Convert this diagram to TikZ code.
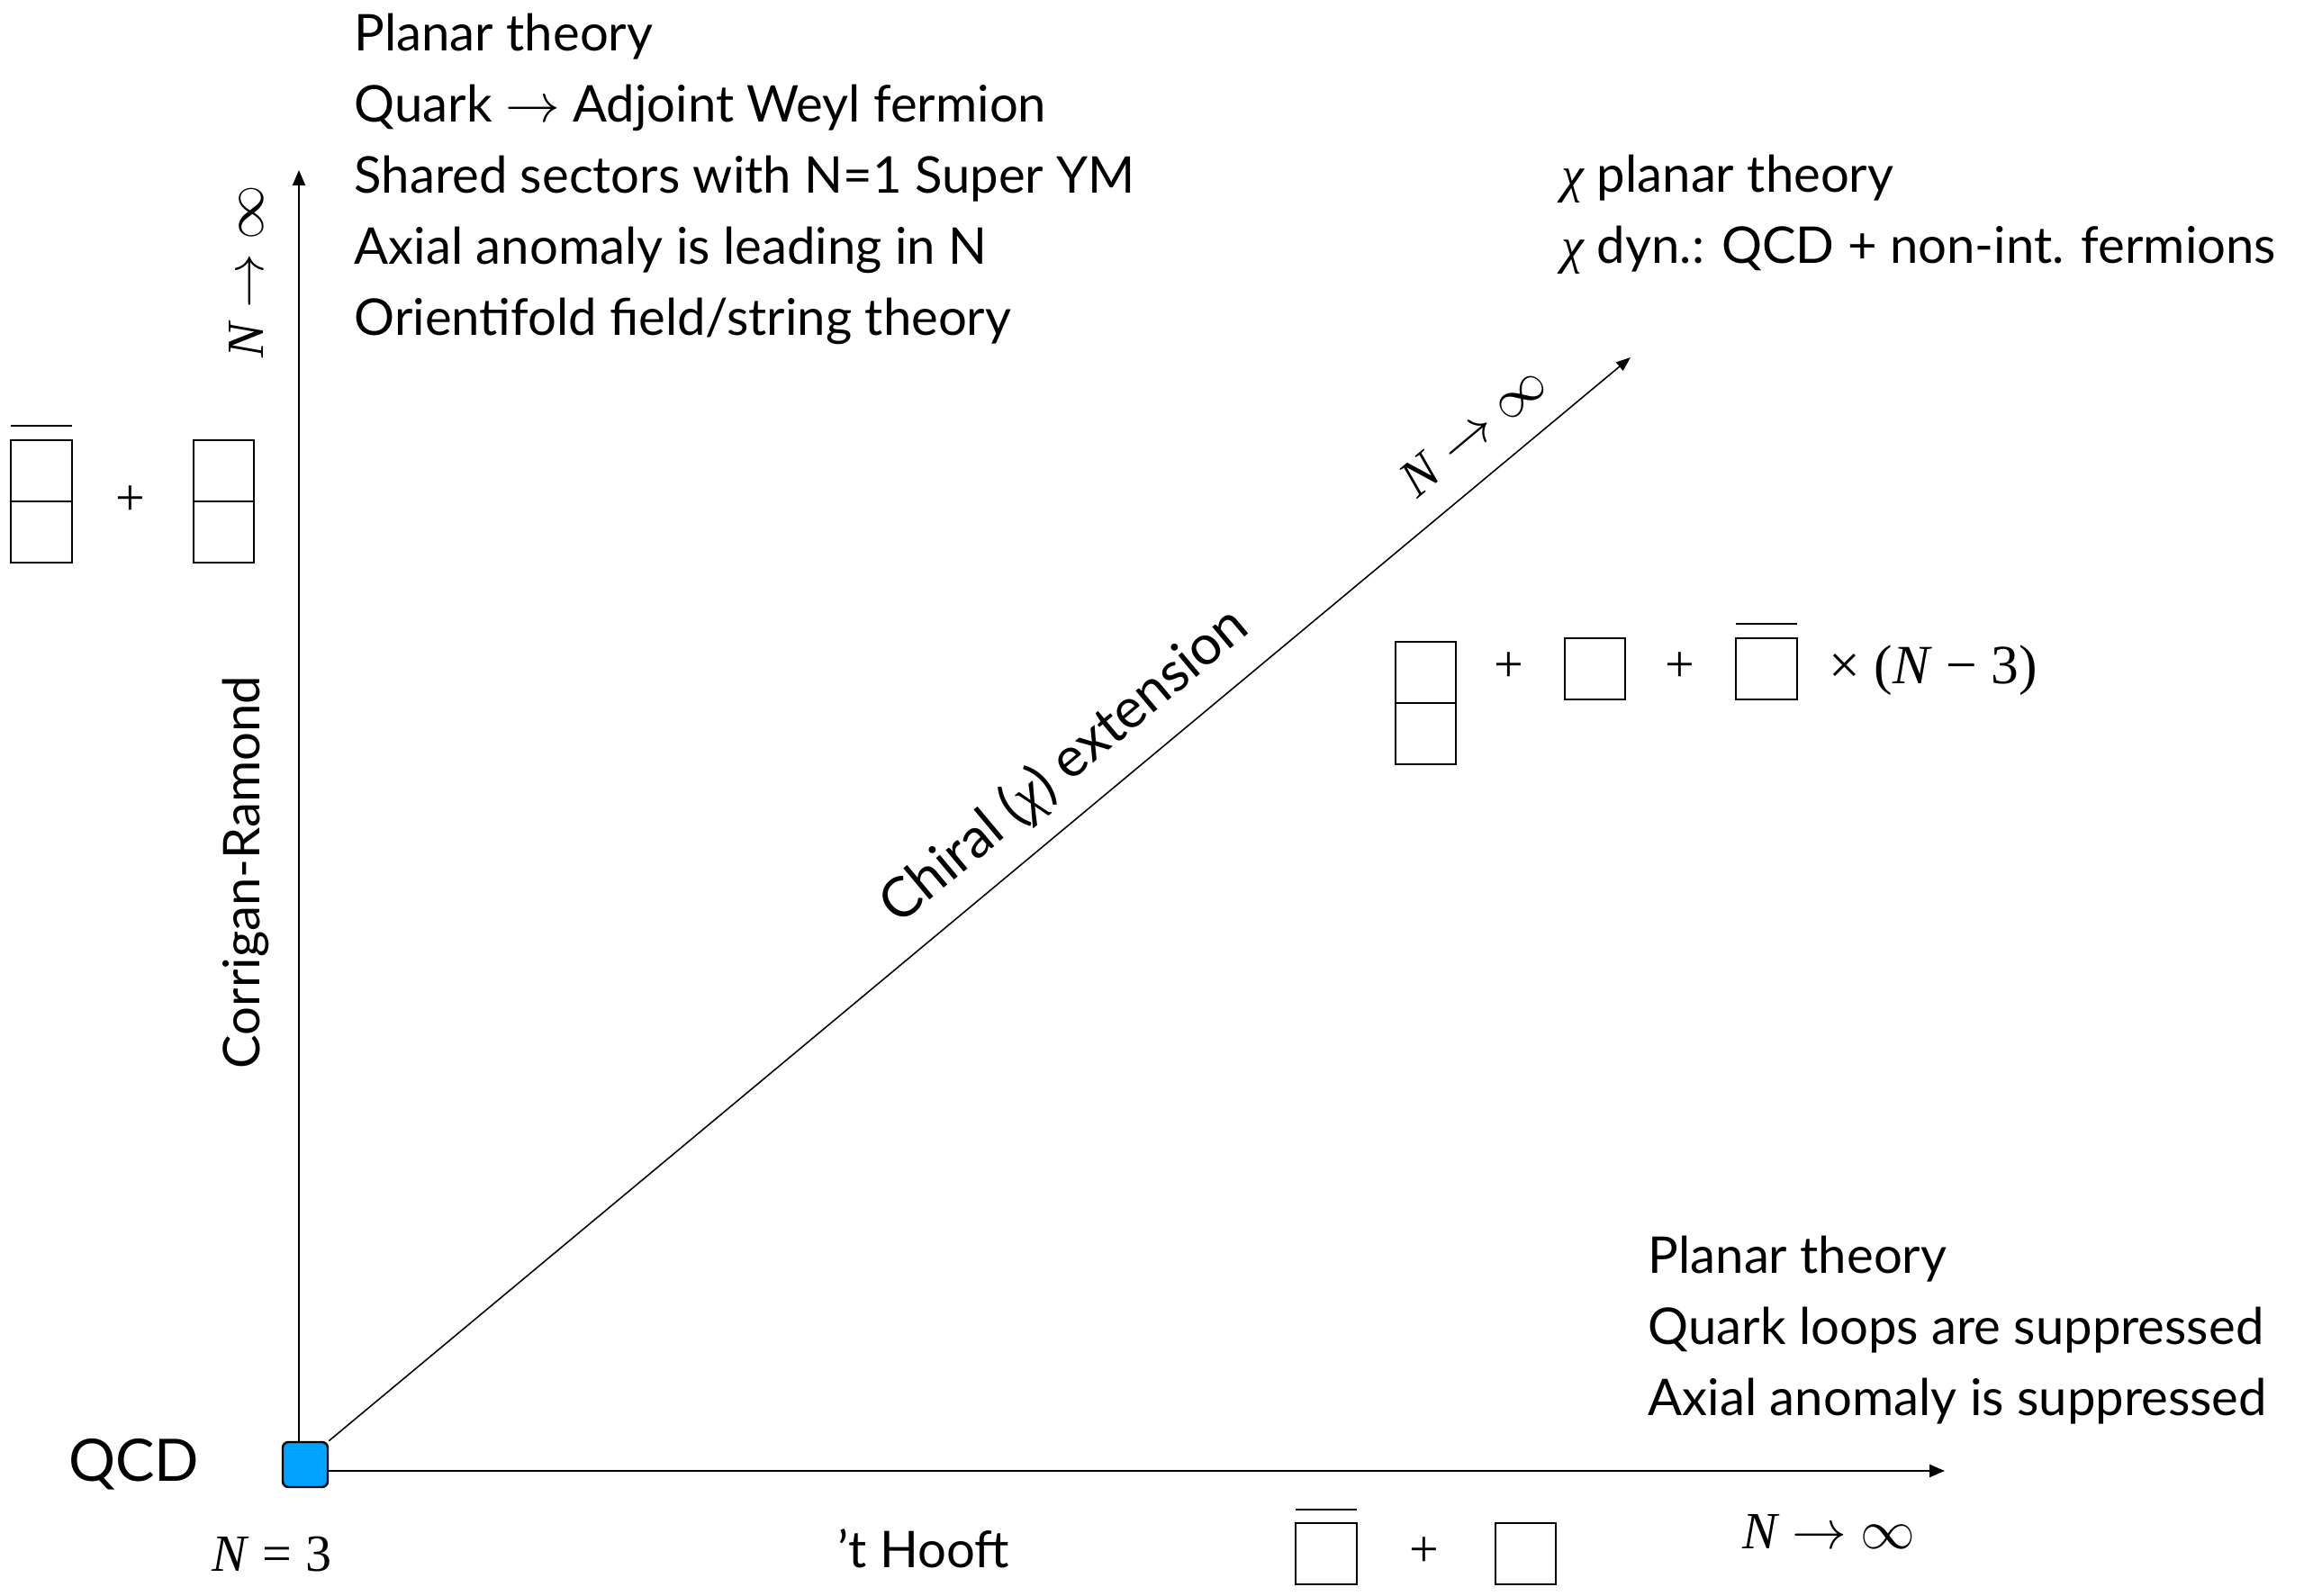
\documentclass[tikz,border=0pt]{standalone}
\usepackage{fontspec}
\setmainfont{Lato}
\newfontfamily\tms{Liberation Serif}
\usetikzlibrary{arrows.meta,positioning}
\definecolor{qcdblue}{HTML}{00A2FF}
\newcommand{\bodysize}{\fontsize{16}{22.5}\selectfont}
\newcommand{\qcdsize}{\fontsize{18.5}{22}\selectfont}
\newcommand{\chisize}{\fontsize{17.5}{21}\selectfont}
\newcommand{\symsize}{\fontsize{16.5}{20}\selectfont}
\newcommand{\nlim}{\textit{N} $\rightarrow$ $\infty$}

\begin{document}
\begin{tikzpicture}[x=1cm,y=1cm,
  axis/.style={line width=0.6pt,-{Triangle[length=0.17cm,width=0.14cm]}},
  diag/.style={line width=0.45pt,-{Triangle[length=0.16cm,width=0.12cm]}},
  cell/.style={draw,line width=0.6pt,minimum width=0.675cm,minimum height=0.68cm,inner sep=0pt,outer sep=0pt},
  barline/.style={line width=0.6pt},
  sym/.style={font=\symsize\tms,inner sep=0pt},
  info/.style={font=\bodysize,align=left,anchor=north west,inner sep=0pt},
  axlabel/.style={font=\bodysize,inner sep=0pt},
  qcdbox/.style={draw,line width=0.7pt,fill=qcdblue,rounded corners=1.8pt,minimum size=0.5cm,inner sep=0pt}]
\useasboundingbox (0,0) rectangle (25.69,17.72);

% --- origin and the three directions ---
\node[qcdbox] (qcd) at (3.39,1.45) {};
\coordinate (ytip) at (3.32,15.83);
\coordinate (xtip) at (21.60,1.38);
\coordinate (dtip) at (18.11,13.75);
\draw[axis] (qcd.north -| ytip) -- (ytip);
\draw[axis] (qcd.east |- xtip) -- (xtip);
\draw[diag] (qcd.north east) -- (dtip);

% --- axis labels ---
\node[font=\qcdsize,inner sep=0pt] (qcdname) at (1.485,1.45) {QCD};
\node[sym] (nthree) at (3.02,0.45) {\textit{N} = 3};
\node[axlabel] (thooft) at (10.26,0.52) {’t Hooft};
\node[sym] (nxinf) at (20.31,0.70) {\nlim};
\node[sym,rotate=90] (nyinf) at (2.74,14.70) {\nlim};
\node[axlabel,rotate=90] (corrigan) at (2.73,8.03) {Corrigan-Ramond};
\node[font=\chisize,rotate=39.9,inner sep=0pt] (chiral) at (11.83,9.20) {Chiral ({\tms\itshape χ}) extension};
\node[sym,rotate=39.9] (ndinf) at (16.36,12.94) {\nlim};

% --- descriptions ---
\node[info] (adjinfo) at (3.93,17.58) {Planar theory\\ Quark $\rightarrow$ Adjoint Weyl fermion\\ Shared sectors with N=1 Super YM\\ Axial anomaly is leading in N\\ Orientifold field/string theory};
\node[info] (chiinfo) at (17.34,16.01) {{\tms\itshape χ} planar theory\\ {\tms\itshape χ} dyn.: QCD + non-int. fermions};
\node[info] (thinfo) at (18.30,4.00) {Planar theory\\ Quark loops are suppressed\\ Axial anomaly is suppressed};

% --- Young tableaux: Corrigan-Ramond ---
\node[cell] (ladjA) at (0.46,12.49) {};
\node[cell,below=0pt of ladjA] (ladjB) {};
\draw[barline] ([yshift=0.16cm]ladjA.north west) -- ([yshift=0.16cm]ladjA.north east);
\node[sym] (lplus) at (1.45,12.16) {+};
\node[cell] (radjA) at (2.485,12.49) {};
\node[cell,below=0pt of radjA] (radjB) {};

% --- Young tableaux: chiral ---
\node[cell] (madjA) at (15.835,10.25) {};
\node[cell,below=0pt of madjA] (madjB) {};
\node[sym] (mplusA) at (16.76,10.31) {+};
\node[cell] (mfund) at (17.715,10.29) {};
\node[sym] (mplusB) at (18.66,10.31) {+};
\node[cell] (mafund) at (19.62,10.29) {};
\draw[barline] ([yshift=0.16cm]mafund.north west) -- ([yshift=0.16cm]mafund.north east);
\node[sym,font=\fontsize{17.5}{20}\selectfont\tms,anchor=west] (mult) at (20.31,10.27) {× (\textit{N} − 3)};

% --- Young tableaux: 't Hooft ---
\node[cell] (bafund) at (14.73,0.46) {};
\draw[barline] ([yshift=0.15cm]bafund.north west) -- ([yshift=0.15cm]bafund.north east);
\node[sym] (bplus) at (15.82,0.48) {+};
\node[cell] (bfund) at (16.945,0.46) {};
\end{tikzpicture}
\end{document}
